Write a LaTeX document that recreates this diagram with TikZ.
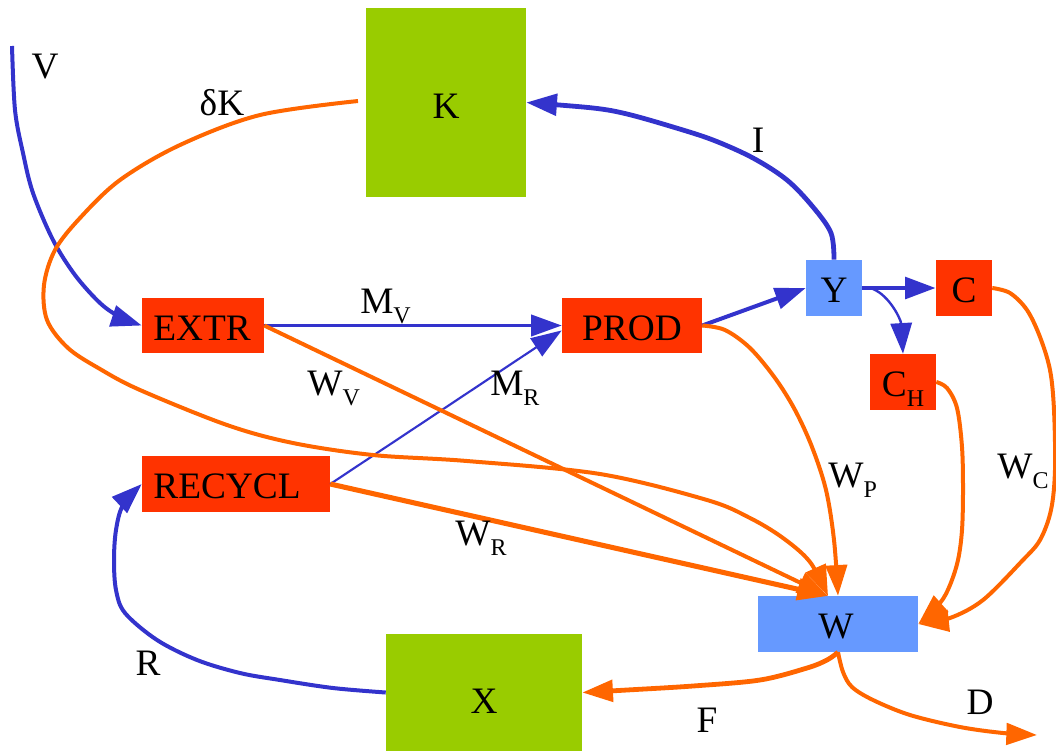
\documentclass[tikz,border=0pt]{standalone}
\usepackage{fontspec}
\setmainfont{Liberation Serif}
\setsansfont{Liberation Serif}
\usetikzlibrary{arrows.meta}
\definecolor{kgreen}{HTML}{99CC00}
\definecolor{redbox}{HTML}{FF3300}
\definecolor{bluebox}{HTML}{6699FF}
\definecolor{flowblue}{HTML}{3333CC}
\definecolor{floworange}{HTML}{FF6600}
\newfontfamily\diagfont{Liberation Serif}
\newcommand\sbs[1]{\raisebox{-7.5pt}{\fontsize{18pt}{18pt}\selectfont #1}}
\begin{document}
\begin{tikzpicture}[x=0.75pt,y=-0.75pt,
  every node/.style={font=\diagfont\fontsize{28pt}{30pt}\selectfont, inner sep=0pt},
  box/.style={rectangle, inner sep=0pt, draw=none},
  stockbox/.style={box, fill=kgreen},
  actbox/.style={box, fill=redbox},
  varbox/.style={box, fill=bluebox},
  lbl/.style={anchor=base},
  lblw/.style={anchor=base west},
  tip/.style={-{Triangle[length=23pt,width=16pt]}},
  blflow/.style={draw=flowblue, line width=3pt, line join=round, tip},
  orflow/.style={draw=floworange, line width=3pt, line join=round, tip},
]
\useasboundingbox (0,0) rectangle (1056,751);

% boxes
\node[stockbox, minimum width=120pt, minimum height=141.75pt] (K) at (446,102.5) {};
\node[lbl] (Kt) at (446,118) {K};
\node[actbox, minimum width=91.5pt, minimum height=41.25pt] (ext) at (203,325.5) {};
\node[lbl] (extt) at (202,340) {EXTR};
\node[actbox, minimum width=105pt, minimum height=41.25pt] (prod) at (632,325.5) {};
\node[lbl] (prodt) at (632,340) {PROD};
\node[varbox, minimum width=42pt, minimum height=42pt] (Y) at (834,288) {};
\node[lbl] (Yt) at (834,302) {Y};
\node[actbox, minimum width=42pt, minimum height=42pt] (C) at (964,288) {};
\node[lbl] (Ct) at (964,302) {C};
\node[actbox, minimum width=49.5pt, minimum height=42pt] (CH) at (903,382) {};
\node[lbl] (CHt) at (903,396) {C\sbs{H}};
\node[actbox, minimum width=141pt, minimum height=42pt] (rec) at (236,484) {};
\node[lbl] (rect) at (227,498) {RECYCL};
\node[stockbox, minimum width=147pt, minimum height=87.75pt] (X) at (484,692.5) {};
\node[lbl] (Xt) at (484,713) {X};
\node[varbox, minimum width=120pt, minimum height=42pt] (W) at (838,624) {};
\node[lbl] (Wt) at (836,638) {W};

\coordinate (v0) at (12,46);
\coordinate (dk0) at (358,101);
\coordinate (wt) at (828,596);
\coordinate (ych) at (873,289);
\coordinate (dend) at (1037,735);

% blue flows
\draw[blflow] plot[smooth,tension=0.55] coordinates {(v0) (15,110) (23,153) (33,193) (53,240) (75,275) (100,303) (120,317) (ext.west)};
\draw[blflow, line width=2.4pt] (ext.east) -- (prod.west);
\draw[blflow, line width=1.6pt] (rec.east) -- (prod.184);
\draw[blflow] (prod.east) -- (Y.west);
\draw[blflow, line width=3.6pt] plot[smooth,tension=0.55] coordinates {(Y.north) (831,233) (813,207) (787,180) (753,158) (713,140) (673,127) (627,114) (593,108) (K.east)};
\draw[blflow, line width=3.6pt] (Y.east) -- (C.west);
\draw[blflow, line width=1.8pt] (ych) .. controls (890,296) and (901,320) .. (CH.north);
\draw[blflow] plot[smooth,tension=0.55] coordinates {(X.west) (333,688) (280,680) (240,673) (197,660) (157,640) (125,613) (116,590) (114,560) (116,530) (123,505) (rec.west)};

% orange flows
\draw[orflow] plot[smooth,tension=0.55] coordinates {(dk0) (260,115) (180,145) (120,180) (80,218) (55,250) (44,285) (47,320) (68,348) (100,369) (140,390) (227,425) (293,443) (373,455) (467,461) (600,474) (707,500) (750,518) (783,538) (810,562) (wt)};
\draw[orflow] (ext.east) -- (wt);
\draw[orflow, line width=3.8pt] (rec.east) -- (wt);
\draw[orflow] plot[smooth,tension=0.55] coordinates {(prod.east) (725,330) (750,348) (775,378) (795,410) (812,447) (826,490) (834,540) (W.north)};
\draw[orflow] plot[smooth,tension=0.55] coordinates {(C.east) (1010,293) (1027,310) (1040,337) (1050,370) (1054,410) (1055,470) (1051,510) (1040,540) (1022,561) (983,600) (950,618) (W.east)};
\draw[orflow] plot[smooth,tension=0.55] coordinates {(CH.east) (947,388) (957,408) (962,447) (963,490) (962,530) (958,560) (950,585) (940,603) (W.east)};
\draw[orflow, line width=3.6pt] plot[smooth,tension=0.55] coordinates {(W.south) (827,660) (807,668) (760,680) (693,686) (627,690) (X.east)};
\draw[orflow] plot[smooth,tension=0.55] coordinates {(W.south) (843,672) (852,687) (873,700) (910,715) (960,727) (1003,733) (dend)};

% labels
\node[lbl] (lV) at (45,78) {V};
\node[lbl] (ldK) at (222,115) {δK};
\node[lbl] (lI) at (758,152) {I};
\node[lblw] (lMV) at (360,313) {M\sbs{V}};
\node[lblw] (lWV) at (307,395) {W\sbs{V}};
\node[lblw] (lMR) at (490,395) {M\sbs{R}};
\node[lblw] (lWP) at (828,487) {W\sbs{P}};
\node[lblw] (lWC) at (997,478) {W\sbs{C}};
\node[lblw] (lWR) at (455,545) {W\sbs{R}};
\node[lbl] (lR) at (148,675) {R};
\node[lbl] (lF) at (707,732) {F};
\node[lbl] (lD) at (980,714) {D};
\end{tikzpicture}
\end{document}
